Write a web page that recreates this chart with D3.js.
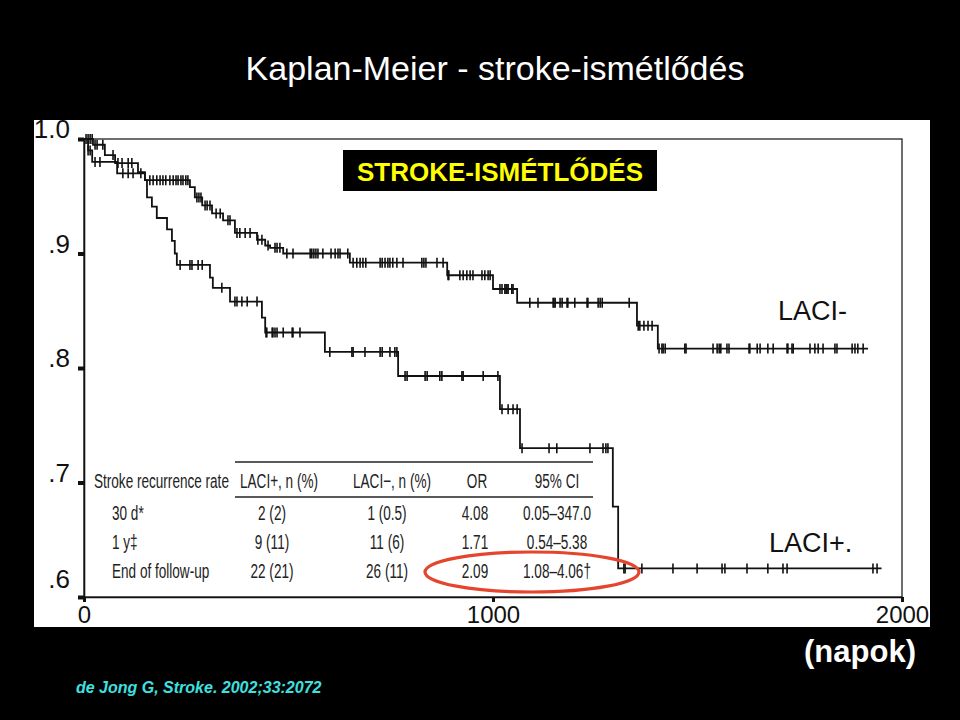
<!DOCTYPE html>
<html><head><meta charset="utf-8">
<script src="https://cdn.jsdelivr.net/npm/d3@7"></script>
<style>
body{margin:0;background:#000;}
svg{display:block;}
</style></head>
<body>
<script>
// ---- data ----
const negTimes = [0,22,51,76,132,149,259,271,289,313,340,369,423,443,455,487,650,888,1000,1059,1352,1403,1917];
const negSurv  = [1,0.995,0.986,0.979,0.971,0.964,0.958,0.949,0.942,0.935,0.929,0.918,0.912,0.907,0.905,0.900,0.892,0.881,0.869,0.857,0.837,0.817,0.817];
const negCensor = [10,15,20,27,32,46,71,83,93,108,117,161,169,178,186,193,200,210,218,225,230,237,242,249,254,
  276,281,286,296,301,308,323,333,352,357,374,381,394,406,425,435,450,467,472,479,
  496,511,553,557,562,567,572,584,604,614,621,626,645,
  658,667,675,682,689,724,729,736,743,748,755,765,780,826,831,836,863,878,
  890,892,919,927,936,944,951,973,980,988,993,
  1017,1022,1029,1032,1034,1037,1046,1049,
  1090,1110,1147,1149,1152,1164,1169,1181,1183,1200,1230,1232,1257,1262,1267,1333,
  1355,1359,1369,1379,1389,
  1406,1413,1416,1421,1469,1472,1538,1548,1553,1557,1572,1577,1626,1628,1646,1653,1672,1685,1719,1721,1731,1734,1775,1787,1795,1807,1836,1841,1878,1885,1892,1905];

const posTimes = [0,10,20,81,149,154,166,178,203,215,222,227,308,315,357,435,443,589,768,1017,1066,1293,1306,1950];
const posSurv  = [1,0.990,0.980,0.970,0.964,0.949,0.941,0.931,0.921,0.911,0.900,0.890,0.879,0.870,0.858,0.844,0.831,0.814,0.793,0.764,0.730,0.679,0.625,0.625];
const posCensor = [5,10,15,27,39,95,108,120,139,235,259,264,279,289,337,369,374,386,399,423,
  445,447,460,462,467,472,487,509,511,528,
  601,655,658,687,724,729,748,760,765,
  785,790,834,839,870,875,924,927,976,1012,
  1022,1037,1049,1059,
  1071,1137,1156,1237,1269,1276,1281,
  1320,1323,1364,1440,1499,1560,1567,1621,1672,1709,1719,1929,1939];

const yTicks = [0.6,0.7,0.8,0.9,1.0];
const yTickLabels = [".6",".7",".8",".9","1.0"];
const xTicks = [0,1000,2000];

const tableHeader = ["Stroke recurrence rate","LACI+, n (%)","LACI\u2212, n (%)","OR","95% CI"];
const rowLabels = ["30 d*","1 y\u2021","End of follow-up"];
const laciPos = ["2 (2)","9 (11)","22 (21)"];
const laciNeg = ["1 (0.5)","11 (6)","26 (11)"];
const orVals = ["4.08","1.71","2.09"];
const ciVals = ["0.05\u2013347.0","0.54\u20135.38","1.08\u20134.06\u2020"];

// ---- drawing ----
const W = 960, H = 720;
const FONT = "Liberation Sans, Arial, sans-serif";
const svg = d3.select("body").append("svg").attr("width",W).attr("height",H);
svg.append("rect").attr("width",W).attr("height",H).attr("fill","#000");

svg.append("text").attr("x",495).attr("y",80).attr("text-anchor","middle")
  .attr("font-family",FONT).attr("font-size",34)
  .attr("fill","#fff").text("Kaplan-Meier - stroke-ismétlődés");

// white panel
svg.append("rect").attr("x",34).attr("y",120).attr("width",896).attr("height",507).attr("fill","#fff");

const x = d3.scaleLinear().domain([0,2000]).range([84,902]);
const y = d3.scaleLinear().domain([0.6,1.0]).range([597,139]);

// frame
svg.append("rect").attr("x",x(0)).attr("y",y(1)).attr("width",x(2000)-x(0)).attr("height",y(0.6)-y(1))
  .attr("fill","none").attr("stroke","#222").attr("stroke-width",1.3);

// y axis
const yAxis = d3.axisLeft(y).tickValues(yTicks).tickSize(6).tickFormat((d,i)=>yTickLabels[i]).tickPadding(8);
const gy = svg.append("g").attr("transform",`translate(${x(0)},0)`).call(yAxis);
gy.select(".domain").attr("stroke","#111").attr("stroke-width",1.6);
gy.selectAll(".tick line").attr("stroke","#111").attr("stroke-width",4);
gy.selectAll(".tick text").attr("font-family",FONT).attr("font-size",26)
  .attr("fill","#111").attr("dy",(d)=> d===0.6 ? "-0.35em" : "-0.05em");

// x axis
const xAxis = d3.axisBottom(x).tickValues(xTicks).tickSize(5).tickFormat(d3.format("d")).tickPadding(4);
const gx = svg.append("g").attr("transform",`translate(0,${y(0.6)})`).call(xAxis);
gx.select(".domain").attr("stroke","#111").attr("stroke-width",1.3);
gx.selectAll(".tick line").attr("stroke","#111").attr("stroke-width",3);
gx.selectAll(".tick text").attr("font-family",FONT).attr("font-size",24).attr("fill","#111");

// curves
function stepVal(times, surv, t){
  let v = surv[0];
  for(let i=0;i<times.length;i++){ if(times[i]<=t) v = surv[i]; }
  return v;
}
const line = d3.line().x(d=>x(d[0])).y(d=>y(d[1])).curve(d3.curveStepAfter);
function drawCurve(times, surv, censor){
  const pts = times.map((t,i)=>[t,surv[i]]);
  svg.append("path").attr("d",line(pts)).attr("fill","none").attr("stroke","#111").attr("stroke-width",1.8);
  svg.append("g").selectAll("line").data(censor).join("line")
    .attr("x1",d=>x(d)).attr("x2",d=>x(d))
    .attr("y1",d=>y(stepVal(times,surv,d))-5).attr("y2",d=>y(stepVal(times,surv,d))+5)
    .attr("stroke","#111").attr("stroke-width",1.6);
}
drawCurve(negTimes, negSurv, negCensor);
drawCurve(posTimes, posSurv, posCensor);

// curve labels
svg.append("text").attr("x",778).attr("y",320).attr("font-family",FONT)
  .attr("font-size",27).attr("fill","#111").text("LACI-");
svg.append("text").attr("x",769).attr("y",552).attr("font-family",FONT)
  .attr("font-size",27).attr("fill","#111").text("LACI+.");

// label box
svg.append("rect").attr("x",343).attr("y",150).attr("width",314).attr("height",41).attr("fill","#000");
svg.append("text").attr("x",500).attr("y",181).attr("text-anchor","middle")
  .attr("font-family",FONT).attr("font-weight","bold").attr("font-size",26)
  .attr("fill","#ffff00").text("STROKE-ISMÉTLŐDÉS");

// table (condensed look: horizontal squeeze fitted to header width)
const tf = FONT;
const tSize = 20.5;
const meas = svg.append("text").attr("font-family",tf).attr("font-size",tSize).attr("opacity",0).text(tableHeader[0]);
const sx = 135 / meas.node().getComputedTextLength();
meas.remove();
function ttext(tx, ty, str, anchor){
  svg.append("text").attr("transform",`translate(${tx},${ty}) scale(${sx},1)`)
    .attr("text-anchor",anchor).attr("font-family",tf)
    .attr("font-size",tSize).attr("fill","#222").text(str);
}
svg.append("line").attr("x1",235).attr("x2",593).attr("y1",462).attr("y2",462).attr("stroke","#222").attr("stroke-width",1.5);
svg.append("line").attr("x1",235).attr("x2",593).attr("y1",497).attr("y2",497).attr("stroke","#222").attr("stroke-width",1.5);
const colX = [94,279,392,477,557];
const headAnchor = ["start","middle","middle","middle","middle"];
tableHeader.forEach((h,i)=>ttext(colX[i],488,h,headAnchor[i]));
const rowY = [520,549,578];
rowLabels.forEach((r,i)=>ttext(112,rowY[i],r,"start"));
laciPos.forEach((r,i)=>ttext(272,rowY[i],r,"middle"));
laciNeg.forEach((r,i)=>ttext(387,rowY[i],r,"middle"));
orVals.forEach((r,i)=>ttext(475,rowY[i],r,"middle"));
ciVals.forEach((r,i)=>ttext(557,rowY[i],r,"middle"));

// red ellipse highlight
svg.append("ellipse").attr("cx",532).attr("cy",572).attr("rx",107).attr("ry",20)
  .attr("fill","none").attr("stroke","#e5452c").attr("stroke-width",3.2);

// axis unit & citation
svg.append("text").attr("x",860).attr("y",662).attr("text-anchor","middle")
  .attr("font-family",FONT).attr("font-weight","bold").attr("font-size",31)
  .attr("fill","#fff").text("(napok)");
svg.append("text").attr("x",76).attr("y",693)
  .attr("font-family",FONT).attr("font-weight","bold").attr("font-style","italic")
  .attr("font-size",16).attr("fill","#3fe0e0").text("de Jong G, Stroke. 2002;33:2072");
</script>
</body></html>
